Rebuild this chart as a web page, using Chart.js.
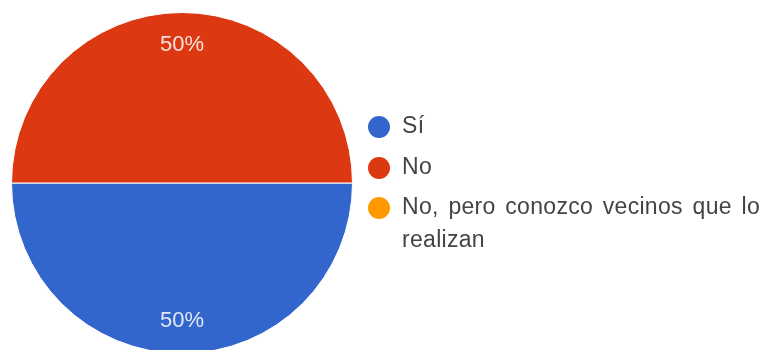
<!DOCTYPE html>
<html>
<head>
<meta charset="utf-8">
<script src="https://cdn.jsdelivr.net/npm/chart.js@4.4.1/dist/chart.umd.min.js"></script>
<style>
  html, body { margin: 0; padding: 0; background: #fff; }
  #wrap { position: relative; width: 768px; height: 350px; overflow: hidden; }
  #wrap canvas { position: absolute; left: 0; top: 0; }
</style>
</head>
<body>
<div id="wrap"><canvas id="pie" width="768" height="356"></canvas></div>
<script>
// answers and their share of responses
const categories = ['Sí', 'No', 'No, pero conozco vecinos que lo realizan'];
const legendLines = [['Sí'], ['No'], ['No, pero conozco vecinos que lo', 'realizan']];
const values = [50, 50, 0];
const colors = ['#3366cc', '#dc3912', '#ff9900'];

const FONT = '"Liberation Sans", Arial, sans-serif';

// percent text inside each slice
const sliceLabels = {
  id: 'sliceLabels',
  afterDatasetsDraw(chart) {
    const ctx = chart.ctx;
    const meta = chart.getDatasetMeta(0);
    const total = values.reduce((a, b) => a + b, 0);
    ctx.save();
    ctx.font = '22px ' + FONT;
    ctx.fillStyle = 'rgba(255,255,255,0.85)';
    ctx.textAlign = 'center';
    ctx.textBaseline = 'middle';
    meta.data.forEach((arc, i) => {
      if (!values[i]) return;
      const mid = (arc.startAngle + arc.endAngle) / 2;
      const r = arc.outerRadius * 0.81;
      ctx.fillText(Math.round(values[i] / total * 100) + '%', arc.x + Math.cos(mid) * r, arc.y + Math.sin(mid) * r);
    });
    ctx.restore();
  }
};

// legend on the right, with wrapped labels
const sideLegend = {
  id: 'sideLegend',
  afterDraw(chart) {
    const ctx = chart.ctx;
    const dotX = 379, textX = 402;
    const rows = [127, 168, 208];
    ctx.save();
    ctx.font = '23px ' + FONT;
    ctx.letterSpacing = '0.3px';
    ctx.wordSpacing = '3px';
    ctx.textBaseline = 'middle';
    legendLines.forEach((lines, i) => {
      ctx.fillStyle = colors[i];
      ctx.beginPath();
      ctx.arc(dotX, rows[i], 11, 0, Math.PI * 2);
      ctx.fill();
      ctx.fillStyle = '#444';
      lines.forEach((t, j) => ctx.fillText(t, textX, rows[i] + j * 33));
    });
    ctx.restore();
  }
};

new Chart(document.getElementById('pie'), {
  type: 'pie',
  data: {
    labels: categories,
    datasets: [{
      data: values,
      backgroundColor: colors,
      borderColor: '#fff',
      borderWidth: 1
    }]
  },
  options: {
    responsive: false,
    animation: false,
    rotation: 90,
    layout: { padding: { left: 11, top: 12, right: 415, bottom: 2 } },
    plugins: {
      legend: { display: false },
      tooltip: { enabled: false }
    }
  },
  plugins: [sliceLabels, sideLegend]
});
</script>
</body>
</html>
